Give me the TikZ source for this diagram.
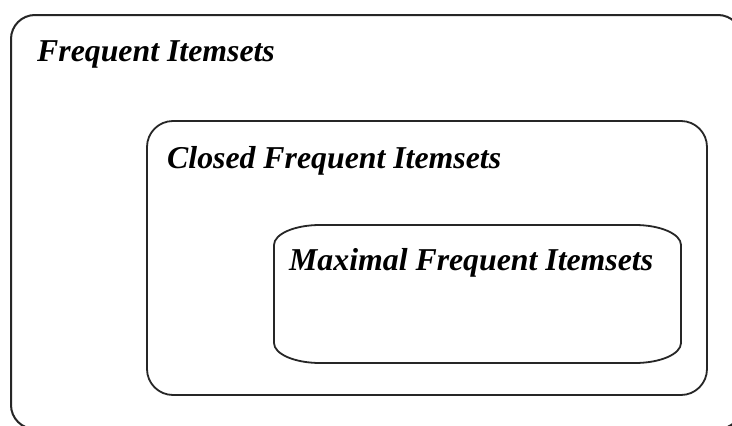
\documentclass[tikz,border=0pt]{standalone}
\usepackage{fontspec}
\setmainfont{Liberation Serif}
\begin{document}
\begin{tikzpicture}[x=1pt,y=-1pt,
  boxline/.style={draw=black!85,line width=1.8pt},
  title/.style={anchor=base west,inner sep=0pt,font=\fontsize{31.8}{38}\selectfont\bfseries\itshape}]
\clip (0,0) rectangle (732,426);
\fill[white] (0,0) rectangle (732,426);
% outer box
\draw[boxline,line width=2pt,rounded corners=24pt] (11,15) rectangle (742,429);
% middle box
\draw[boxline,rounded corners=26pt] (147,121) rectangle (707,395);
% inner box with elliptical corners
\draw[boxline]
  (320,225) -- (635,225)
  .. controls (660.4,225) and (681,234) .. (681,245) -- (681,343)
  .. controls (681,354) and (660.4,363) .. (635,363) -- (320,363)
  .. controls (294.6,363) and (274,354) .. (274,343) -- (274,245)
  .. controls (274,234) and (294.6,225) .. (320,225) -- cycle;
\node[title] (fi) at (37,61) {Frequent Itemsets};
\node[title] (cfi) at (167,168) {Closed Frequent Itemsets};
\node[title] (mfi) at (289,270) {Maximal Frequent Itemsets};
\end{tikzpicture}
\end{document}
